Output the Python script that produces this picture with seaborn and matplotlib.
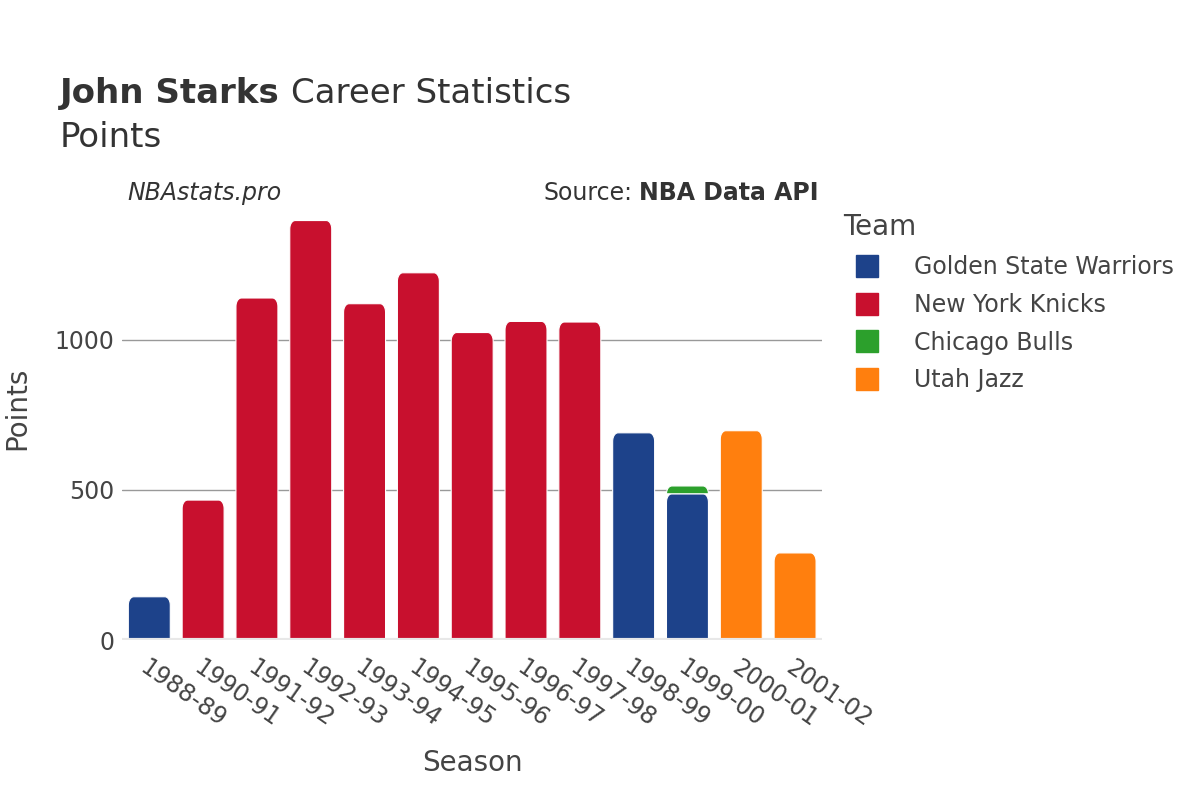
import numpy as np
import pandas as pd
import matplotlib
matplotlib.use("Agg")
import matplotlib.pyplot as plt
import seaborn as sns
from matplotlib.patches import Polygon
from matplotlib.lines import Line2D

# chart data
seasons = ["1988-89", "1990-91", "1991-92", "1992-93", "1993-94", "1994-95", "1995-96",
           "1996-97", "1997-98", "1998-99", "1999-00", "2000-01", "2001-02"]
teams = ["Golden State Warriors", "New York Knicks", "Chicago Bulls", "Utah Jazz"]
row_season = ["1988-89", "1990-91", "1991-92", "1992-93", "1993-94", "1994-95", "1995-96",
              "1996-97", "1997-98", "1998-99", "1999-00", "1999-00", "2000-01", "2001-02"]
row_team = ["Golden State Warriors", "New York Knicks", "New York Knicks", "New York Knicks",
            "New York Knicks", "New York Knicks", "New York Knicks", "New York Knicks",
            "New York Knicks", "Golden State Warriors", "Golden State Warriors",
            "Chicago Bulls", "Utah Jazz", "Utah Jazz"]
row_points = [144, 466, 1139, 1397, 1120, 1223, 1024, 1061, 1059, 690, 487, 26, 697, 290]
team_colors = ["#1d428a", "#c8102e", "#2ca02c", "#ff7f0e"]

df = pd.DataFrame({"Season": row_season, "Team": row_team, "Points": row_points})
palette = dict(zip(teams, team_colors))

sns.set_style("white")
plt.rcParams["font.family"] = ["DejaVu Sans"]
text_color = "#444444"
dark = "#333333"

fig = plt.figure(figsize=(12, 8), dpi=100)
ax = fig.add_axes([0.102, 0.2, 0.583, 0.578])

# stack bars: each team layer sits on the sum of the previous ones
width = 0.78
bottoms = pd.Series(0.0, index=seasons)
for team in teams:
    sub = df[df["Team"] == team].set_index("Season")["Points"].reindex(seasons)
    heights = sub.fillna(0).values
    sns.barplot(x=seasons, y=heights, order=seasons, color=palette[team],
                width=width, ax=ax, saturation=1, bottom=bottoms.values)
    bottoms = bottoms + heights


def rounded_top(x0, y0, w, h, rx=0.1, ry=28):
    # bar outline with rounded top corners only
    ry = min(ry, h)
    t = np.linspace(0, np.pi / 2, 10)
    right = np.column_stack([x0 + w - rx + rx * np.cos(t), y0 + h - ry + ry * np.sin(t)])
    left = np.column_stack([x0 + rx - rx * np.sin(t), y0 + h - ry + ry * np.cos(t)])
    return np.vstack([[x0 + w, y0], right, left, [x0, y0]])


# swap seaborn's rectangles for rounded-top shapes like the original
for p in list(ax.patches):
    x0, y0 = p.get_x(), p.get_y()
    w, h = p.get_width(), p.get_height()
    fc = p.get_facecolor()
    p.remove()
    if h <= 0:
        continue
    ax.add_patch(Polygon(rounded_top(x0, y0, w, h), closed=True, facecolor=fc,
                         edgecolor="white", linewidth=0.8, zorder=2))

ax.set_xlim(-0.5, len(seasons) - 0.5)
ax.set_ylim(0, 1540)
ax.set_yticks([0, 500, 1000])
ax.set_yticklabels(["0", "500", "1000"])
for yv in [500, 1000]:
    ax.axhline(yv, color="#999999", linewidth=1, zorder=0)
ax.axhline(0, color="#e8e8e8", linewidth=3, zorder=3)
for s in ax.spines.values():
    s.set_visible(False)

ax.set_xticks(range(len(seasons)))
ax.set_xticklabels(seasons, rotation=-35, ha="left", rotation_mode="anchor",
                   fontsize=17, color=text_color)
ax.tick_params(axis="x", length=0, pad=11)
ax.tick_params(axis="y", length=0, labelsize=17, labelcolor=text_color, pad=6)
ax.set_xlabel("Season", fontsize=20, color=text_color)
ax.xaxis.set_label_coords(0.5, -0.235)
ax.set_ylabel("Points", fontsize=20, color=text_color)
ax.yaxis.set_label_coords(-0.13, 0.5)

renderer = fig.canvas.get_renderer()
t1 = fig.text(0.05, 0.871, "John Starks", fontsize=24.5, fontweight="bold", color=dark)
bb = t1.get_window_extent(renderer)
fig.text(bb.x1 / 1200 + 0.009, 0.871, "Career Statistics", fontsize=24.5, color=dark)
fig.text(0.05, 0.816, "Points", fontsize=24.5, color=dark)

fig.text(0.106, 0.75, "NBAstats.pro", fontsize=17, style="italic", color=dark)
t2 = fig.text(0.682, 0.75, "NBA Data API", fontsize=17, fontweight="bold", color=dark, ha="right")
bb2 = t2.get_window_extent(renderer)
fig.text(bb2.x0 / 1200 - 0.005, 0.75, "Source:", fontsize=17, color=dark, ha="right")

handles = [Line2D([0], [0], marker="s", linestyle="", markersize=16,
                  markerfacecolor=c, markeredgecolor=c) for c in team_colors]
leg = fig.legend(handles, teams, title="Team", loc="upper left",
                 bbox_to_anchor=(0.695, 0.745), frameon=False, fontsize=17,
                 title_fontsize=20, labelcolor=text_color, handletextpad=1.0,
                 labelspacing=0.58, borderaxespad=0)
leg.get_title().set_color(text_color)
leg._legend_box.align = "left"

fig.savefig("out.png", dpi=100)
